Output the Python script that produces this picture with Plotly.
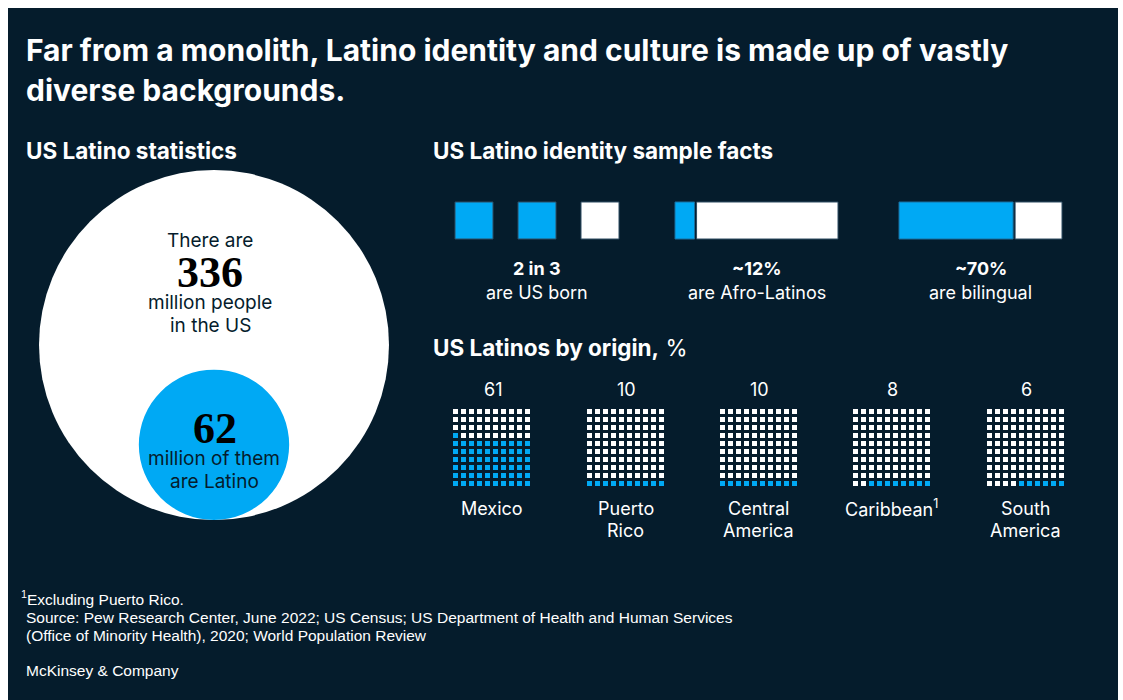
import math
import plotly.graph_objects as go

# ---- data -------------------------------------------------------------
population_total = 336      # million people in the US
population_latino = 62      # million Latinos

us_born = (2, 3)            # "2 in 3"
fact_labels = ["2 in 3", "~12%", "~70%"]
fact_captions = ["are US born", "are Afro-Latinos", "are bilingual"]
bar_shares = [0.12, 0.70]   # Afro-Latino, bilingual

origin_names = ["Mexico", "Puerto<br>Rico", "Central<br>America",
                "Caribbean<sup>1</sup>", "South<br>America"]
origin_pct = [61, 10, 10, 8, 6]
partial_side = ["left", "right", "right", "right", "right"]

# ---- style ------------------------------------------------------------
NAVY = "#051c2c"
BLUE = "#00a9f4"
WHITE = "#ffffff"
SANS = "Inter, Liberation Sans, Arial, sans-serif"
FOOT = "Liberation Sans, Arial, sans-serif"
SERIF = "Liberation Serif, DejaVu Serif, serif"
W, H = 1123, 700
PAD = 3   # annotation inner padding, compensated for left-anchored text

fig = go.Figure()
shapes = []
ann = []


def text(x, y, s, size=17, color=WHITE, family=SANS, xanchor="center", bold=False):
    if bold:
        s = f"<b>{s}</b>"
    if xanchor == "left":
        x -= PAD
    ann.append(dict(x=x, y=y, text=s, showarrow=False, xref="x", yref="y",
                    xanchor=xanchor, yanchor="middle",
                    align=xanchor if xanchor != "center" else "center",
                    font=dict(size=size, color=color, family=family)))


# panel background
shapes.append(dict(type="rect", xref="x", yref="y", x0=8, x1=1118, y0=8, y1=H,
                   fillcolor=NAVY, line=dict(width=0), layer="below"))

# title
text(27, 50, "Far from a monolith, Latino identity and culture is made up of vastly",
     size=30, xanchor="left", bold=True)
text(27, 90, "diverse backgrounds.", size=30, xanchor="left", bold=True)

# ---- left panel: population circles ------------------------------------
text(27, 150, "US Latino statistics", size=22.5, xanchor="left", bold=True)
cx, cy, R = 214, 345, 175
r_lat = R * math.sqrt(population_latino / population_total)
shapes.append(dict(type="circle", xref="x", yref="y", x0=cx - R, x1=cx + R,
                   y0=cy - R, y1=cy + R, fillcolor=WHITE, line=dict(width=0)))
ly = cy + R - r_lat
shapes.append(dict(type="circle", xref="x", yref="y", x0=cx - r_lat, x1=cx + r_lat,
                   y0=ly - r_lat, y1=ly + r_lat, fillcolor=BLUE, line=dict(width=0)))

text(cx - 4, 240, "There are", size=19, color=NAVY)
text(cx - 4, 272, str(population_total), size=44, color="#000000", family=SERIF, bold=True)
text(cx - 4, 302, "million people", size=19, color=NAVY)
text(cx - 4, 325, "in the US", size=19, color=NAVY)
text(cx + 1, 428, str(population_latino), size=44, color="#000000", family=SERIF, bold=True)
text(cx, 458, "million of them", size=19, color=NAVY)
text(cx, 481, "are Latino", size=19, color=NAVY)

# ---- right panel: identity facts ---------------------------------------
text(434, 150, "US Latino identity sample facts", size=22.5, xanchor="left", bold=True)
by0, by1 = 202, 239
sq, pitch, sx0 = 38, 63, 455
for i in range(us_born[1]):
    x0 = sx0 + i * pitch
    fill = BLUE if i < us_born[0] else WHITE
    shapes.append(dict(type="rect", xref="x", yref="y", x0=x0, x1=x0 + sq, y0=by0, y1=by1,
                       fillcolor=fill, line=dict(width=1, color="#2f4c62")))
fact_centers = [sx0 + (pitch * (us_born[1] - 1) + sq) / 2]

bar_x0 = [675, 899]
bar_w = 163
for x0, share in zip(bar_x0, bar_shares):
    xb = x0 + bar_w * share
    shapes.append(dict(type="rect", xref="x", yref="y", x0=x0, x1=xb, y0=by0, y1=by1,
                       fillcolor=BLUE, line=dict(width=1, color="#1a6f9e")))
    shapes.append(dict(type="rect", xref="x", yref="y", x0=xb + 2, x1=x0 + bar_w, y0=by0, y1=by1,
                       fillcolor=WHITE, line=dict(width=1, color="#2f4c62")))
    fact_centers.append(x0 + bar_w / 2)

for xc, lab, cap in zip(fact_centers, fact_labels, fact_captions):
    text(xc, 268, lab, size=18, bold=True)
    text(xc, 292, cap, size=18)

# ---- origin waffles ----------------------------------------------------
text(434, 347, "<b>US Latinos by origin,</b> %", size=22.5, xanchor="left")

cell, step = 5, 8
top = 409
for i, (name, pct, side) in enumerate(zip(origin_names, origin_pct, partial_side)):
    left = 453 + round(i * 133.5)
    full_rows, rem = divmod(pct, 10)
    xs, ys, cols = [], [], []
    for row in range(10):            # row 0 = top
        row_from_bottom = 9 - row
        for col in range(10):
            if row_from_bottom < full_rows:
                filled = True
            elif row_from_bottom == full_rows and rem:
                filled = col < rem if side == "left" else col >= 10 - rem
            else:
                filled = False
            xs.append(left + cell / 2 + col * step)
            ys.append(top + cell / 2 + row * step)
            cols.append(BLUE if filled else WHITE)
    fig.add_trace(go.Scatter(x=xs, y=ys, mode="markers", hoverinfo="skip",
                             marker=dict(symbol="square", size=cell, color=cols,
                                         line=dict(width=0))))
    gx = left + (9 * step + cell) / 2
    text(gx + 1, 389, str(pct), size=18)
    for j, ln in enumerate(name.split("<br>")):
        text(gx, 508 + 22 * j, ln, size=18)

# ---- footnotes ---------------------------------------------------------
text(22, 598, "<sup>1</sup>Excluding Puerto Rico.", size=15.5, xanchor="left", family=FOOT)
text(27, 617, "Source: Pew Research Center, June 2022; US Census; US Department of Health and Human Services",
     size=15.5, xanchor="left", family=FOOT)
text(27, 635, "(Office of Minority Health), 2020; World Population Review", size=15.5,
     xanchor="left", family=FOOT)
text(27, 670, "McKinsey &amp; Company", size=15.5, xanchor="left", family=FOOT)

fig.update_layout(
    width=W, height=H, margin=dict(l=0, r=0, t=0, b=0),
    paper_bgcolor=WHITE, plot_bgcolor=WHITE, showlegend=False,
    xaxis=dict(range=[0, W], visible=False, fixedrange=True, domain=[0, 1]),
    yaxis=dict(range=[H, 0], visible=False, fixedrange=True, domain=[0, 1]),
    shapes=shapes, annotations=ann,
)

fig.write_html("out.html", config={"displayModeBar": False})
